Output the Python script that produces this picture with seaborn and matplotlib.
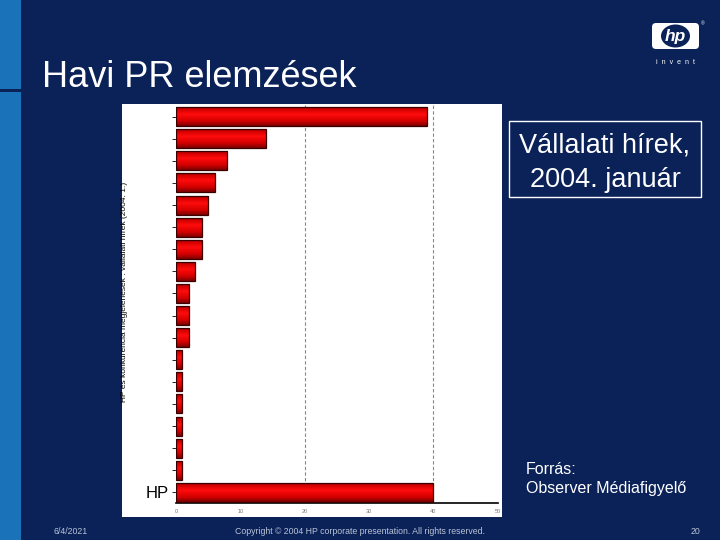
import numpy as np
import pandas as pd
import matplotlib
matplotlib.use("Agg")
import matplotlib.pyplot as plt
import seaborn as sns
from matplotlib.patches import Rectangle, FancyBboxPatch, Ellipse
from matplotlib.colors import LinearSegmentedColormap

# ---- data ----
categories = ["K1", "K2", "K3", "K4", "K5", "K6", "K7", "K8", "K9",
              "K10", "K11", "K12", "K13", "K14", "K15", "K16", "K17", "HP"]
values = [39, 14, 8, 6, 5, 4, 4, 3, 2, 2, 2, 1, 1, 1, 1, 1, 1, 40]
tick_labels = [""] * 17 + ["HP"]
x_ticks = [0, 10, 20, 30, 40, 50]

NAVY = "#0b2259"
STRIPE = "#1a72b9"
FONT = ["Liberation Sans", "DejaVu Sans"]

sns.set_theme(style="white")
plt.rcParams["font.family"] = FONT

fig = plt.figure(figsize=(7.2, 5.4), dpi=100)
fig.patch.set_facecolor(NAVY)

# background / decoration axes in pixel coordinates
bg = fig.add_axes([0, 0, 1, 1], zorder=-5)
bg.set_xlim(0, 720)
bg.set_ylim(540, 0)
bg.axis("off")
bg.add_patch(Rectangle((0, 0), 20.5, 88.5, color=STRIPE, lw=0))
bg.add_patch(Rectangle((0, 91.5), 20.5, 450, color=STRIPE, lw=0))
bg.add_patch(Rectangle((122, 104), 380, 413, color="white", lw=0))

# title
bg.text(42, 87, "Havi PR elemzések", color="white", fontsize=26,
        ha="left", va="baseline")

# boxed subtitle
bg.add_patch(Rectangle((509, 121), 192, 76, fill=False, ec="white", lw=1))
bg.text(605, 153, "Vállalati hírek,", color="white", fontsize=19.5,
        ha="center", va="baseline")
bg.text(605, 187, "2004. január", color="white", fontsize=19.5,
        ha="center", va="baseline")

# source
bg.text(526, 474, "Forrás:", color="white", fontsize=11.5, ha="left", va="baseline")
bg.text(526, 493, "Observer Médiafigyelő", color="white", fontsize=11.5,
        ha="left", va="baseline")

# footer
fcol = "#b9c3d6"
bg.text(53, 531, "6/4/2021", color=fcol, fontsize=6.3, ha="left", va="center")
bg.text(360, 531, "Copyright © 2004 HP corporate presentation. All rights reserved.",
        color=fcol, fontsize=6.3, ha="center", va="center")
bg.text(700, 531, "20", color=fcol, fontsize=6.3, ha="right", va="center")

# y-axis label (vertical small text)
bg.text(125, 292, "HP és konkurencia megjelenések : vállalati hírek (2004. 1.)",
        color="black", fontsize=6, rotation=90, ha="center", va="center")

# HP logo
bg.add_patch(FancyBboxPatch((652, 23), 47, 26, boxstyle="round,pad=0,rounding_size=4",
                            fc="white", ec="none"))
bg.add_patch(Ellipse((675.5, 36), 29, 23, fc=NAVY, ec="none"))
bg.text(675.5, 36.5, "hp", color="white", fontsize=12.5, fontweight="bold",
        fontstyle="italic", ha="center", va="center")
bg.text(703, 24, "®", color="white", fontsize=3.5, ha="center", va="center")
bg.text(676, 62, "i  n  v  e  n  t", color="white", fontsize=5,
        ha="center", va="center")

# ---- main chart ----
df = pd.DataFrame({"category": categories, "value": values})
ax = fig.add_axes([176 / 720, 1 - 503 / 540, (497.5 - 176) / 720, (503 - 104) / 540])
ax.set_facecolor("white")
sns.barplot(data=df, x="value", y="category", orient="h", color="#ee0000",
            edgecolor="#3a0000", linewidth=0.9, width=0.86, ax=ax, zorder=3)

# gradient shading of bars
cmap = LinearSegmentedColormap.from_list(
    "redgrad", [(0, "#8a0000"), (0.15, "#d00000"), (0.4, "#ff0c0c"),
                (0.75, "#d40000"), (1, "#7a0000")])
grad = np.linspace(0, 1, 64).reshape(-1, 1)
for p in list(ax.patches):
    x0, y0, w, h = p.get_x(), p.get_y(), p.get_width(), p.get_height()
    im = ax.imshow(grad, extent=[x0, x0 + w, y0 + h, y0], origin="upper",
                   aspect="auto", cmap=cmap, zorder=2, interpolation="bilinear")
    im.set_clip_path(p)
    p.set_facecolor("none")
    p.set_zorder(4)

ax.set_xlim(0, 50)
ax.set_ylim(17.48, -0.57)
ax.set_xticks(x_ticks)
ax.set_xticklabels([str(t) for t in x_ticks])
ax.set_yticks(range(len(categories)))
ax.set_yticklabels(tick_labels)
ax.tick_params(axis="x", labelsize=4, colors="#777777", length=0, pad=4)
ax.tick_params(axis="y", labelsize=12, labelcolor="black", color="black",
               length=3, width=0.6, left=True, pad=2)
ax.set_xlabel("")
ax.set_ylabel("")
for s in ["top", "right", "left"]:
    ax.spines[s].set_visible(False)
ax.spines["bottom"].set_color("black")
ax.spines["bottom"].set_linewidth(1.2)
for gx in (20, 40):
    ax.axvline(gx, color="#888888", lw=0.8, ls=(0, (3, 2)), zorder=1)

fig.savefig("out.png", dpi=100, facecolor=NAVY)
